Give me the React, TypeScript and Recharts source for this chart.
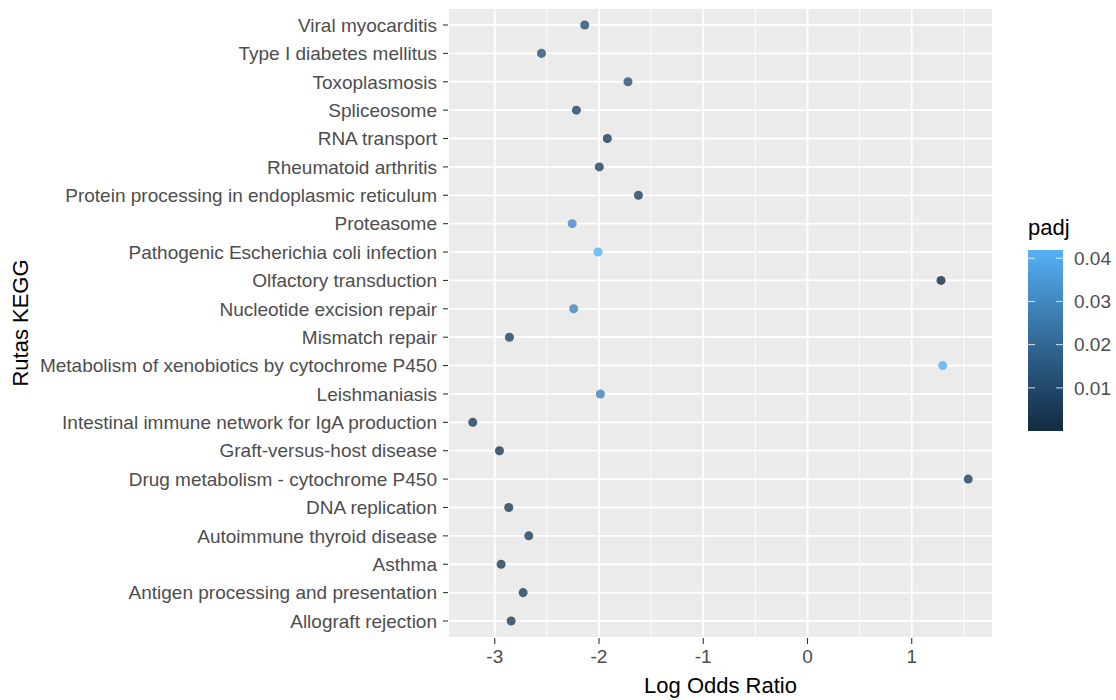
import React from 'react';
import { ScatterChart, Scatter, XAxis, YAxis, CartesianGrid, Cell } from 'recharts';

// ggplot factor order (first level drawn at the bottom)
const pathways = [
  'Allograft rejection',
  'Antigen processing and presentation',
  'Asthma',
  'Autoimmune thyroid disease',
  'DNA replication',
  'Drug metabolism - cytochrome P450',
  'Graft-versus-host disease',
  'Intestinal immune network for IgA production',
  'Leishmaniasis',
  'Metabolism of xenobiotics by cytochrome P450',
  'Mismatch repair',
  'Nucleotide excision repair',
  'Olfactory transduction',
  'Pathogenic Escherichia coli infection',
  'Proteasome',
  'Protein processing in endoplasmic reticulum',
  'Rheumatoid arthritis',
  'RNA transport',
  'Spliceosome',
  'Toxoplasmosis',
  'Type I diabetes mellitus',
  'Viral myocarditis',
];

const logOddsRatio = [
  -2.843, -2.728, -2.939, -2.674, -2.866, 1.542, -2.955, -3.211, -1.987, 1.297, -2.859,
  -2.243, 1.281, -2.009, -2.257, -1.622, -1.997, -1.92, -2.217, -1.722, -2.552, -2.137,
];

const padj = [
  0.006, 0.007, 0.006, 0.007, 0.006, 0.007, 0.005, 0.005, 0.028, 0.0415, 0.008,
  0.029, 0.00002, 0.0419, 0.031, 0.008, 0.007, 0.005, 0.008, 0.013, 0.013, 0.012,
];

const xTicks = [-3, -2, -1, 0, 1];
const xMinorTicks = [-2.5, -1.5, -0.5, 0.5, 1.5];
const legendTicks = [0.01, 0.02, 0.03, 0.04];
const legendTickLabels = ['0.01', '0.02', '0.03', '0.04'];

const LOW = '#132B43';
const HIGH = '#56B1F7';
const FONT = '"Liberation Sans", Arial, Helvetica, sans-serif';

// ---- Lab colour interpolation (as ggplot's seq_gradient_pal) ----
const hexToRgb = (h: string) => [1, 3, 5].map((i) => parseInt(h.slice(i, i + 2), 16));
const toLin = (c: number) => {
  const v = c / 255;
  return v <= 0.04045 ? v / 12.92 : Math.pow((v + 0.055) / 1.055, 2.4);
};
const fromLin = (v: number) => {
  const c = v <= 0.0031308 ? 12.92 * v : 1.055 * Math.pow(v, 1 / 2.4) - 0.055;
  return Math.round(Math.min(1, Math.max(0, c)) * 255);
};
const WX = 0.95047, WY = 1.0, WZ = 1.08883;
const EPS = 216 / 24389, KAP = 24389 / 27;
const fLab = (t: number) => (t > EPS ? Math.cbrt(t) : (KAP * t + 16) / 116);
const fInv = (t: number) => {
  const t3 = t * t * t;
  return t3 > EPS ? t3 : (116 * t - 16) / KAP;
};
function hexToLab(h: string) {
  const [r, g, b] = hexToRgb(h).map(toLin);
  const X = 0.4124564 * r + 0.3575761 * g + 0.1804375 * b;
  const Y = 0.2126729 * r + 0.7151522 * g + 0.072175 * b;
  const Z = 0.0193339 * r + 0.119192 * g + 0.9503041 * b;
  const fx = fLab(X / WX), fy = fLab(Y / WY), fz = fLab(Z / WZ);
  return [116 * fy - 16, 500 * (fx - fy), 200 * (fy - fz)];
}
function labToHex(lab: number[]) {
  const [L, a, b] = lab;
  const fy = (L + 16) / 116, fx = fy + a / 500, fz = fy - b / 200;
  const X = WX * fInv(fx), Y = WY * fInv(fy), Z = WZ * fInv(fz);
  const r = 3.2404542 * X - 1.5371385 * Y - 0.4985314 * Z;
  const g = -0.969266 * X + 1.8760108 * Y + 0.041556 * Z;
  const bl = 0.0556434 * X - 0.2040259 * Y + 1.0572252 * Z;
  return '#' + [r, g, bl].map(fromLin).map((v) => v.toString(16).padStart(2, '0')).join('');
}
const labLow = hexToLab(LOW);
const labHigh = hexToLab(HIGH);
const pMin = Math.min(...padj);
const pMax = Math.max(...padj);
const colorAt = (t: number) => labToHex(labLow.map((v, i) => v + (labHigh[i] - v) * t));
const colorFor = (p: number) => colorAt((p - pMin) / (pMax - pMin));

const data = pathways.map((name, i) => ({ name, lor: logOddsRatio[i], padj: padj[i] }));

// ggplot continuous expansion: 5% each side
const xLo = Math.min(...logOddsRatio);
const xHi = Math.max(...logOddsRatio);
const xPad = (xHi - xLo) * 0.05;
const xDomain: [number, number] = [xLo - xPad, xHi + xPad];

const gradStops = Array.from({ length: 21 }, (_, k) => k / 20);

// colour bar geometry
const BAR_X = 1028, BAR_Y = 250, BAR_W = 35, BAR_H = 181;
const barY = (v: number) => BAR_Y + BAR_H - ((v - pMin) / (pMax - pMin)) * BAR_H;

export default function App() {
  return (
    <div style={{ position: 'absolute', left: 0, top: 0, width: 1116, height: 700, background: '#fff', fontFamily: FONT }}>
      <ScatterChart width={1116} height={700} margin={{ top: 8, right: 123, bottom: 0, left: 0 }} style={{ fontFamily: FONT }}>
        <CartesianGrid xAxisId="minor" horizontal={false} stroke="#FFFFFF" strokeWidth={0.9} fill="#EBEBEB" fillOpacity={1} />
        <CartesianGrid stroke="#FFFFFF" strokeWidth={1.8} />
        <XAxis xAxisId="minor" type="number" dataKey="lor" domain={xDomain} ticks={xMinorTicks} allowDataOverflow hide />
        <XAxis
          type="number"
          dataKey="lor"
          domain={xDomain}
          ticks={xTicks}
          allowDataOverflow
          height={62}
          tickSize={6}
          tickMargin={6}
          axisLine={false}
          tickLine={{ stroke: '#333333', strokeWidth: 1.1 }}
          tick={{ fill: '#4D4D4D', fontSize: 19, fontFamily: FONT }}
          label={(props: any) => {
            const vb = props.viewBox || { x: 448, y: 638, width: 545 };
            return (
              <text x={vb.x + vb.width / 2} y={693} textAnchor="middle" fontSize={22} fill="#000000" fontFamily={FONT}>
                Log Odds Ratio
              </text>
            );
          }}
        />
        <YAxis
          type="category"
          dataKey="name"
          scale="point"
          allowDuplicatedCategory={false}
          width={448}
          padding={{ top: 17, bottom: 17 }}
          tickSize={5}
          tickMargin={6}
          axisLine={false}
          interval={0}
          tickLine={{ stroke: '#333333', strokeWidth: 1.1 }}
          tick={{ fill: '#4D4D4D', fontSize: 19, fontFamily: FONT }}
          label={(props: any) => {
            const vb = props.viewBox || { x: 0, y: 8, height: 630 };
            return (
              <text
                transform={`translate(28.3, ${vb.y + vb.height / 2}) rotate(-90)`}
                textAnchor="middle"
                fontSize={22}
                fill="#000000"
                fontFamily={FONT}
              >
                Rutas KEGG
              </text>
            );
          }}
        />
        <Scatter data={data} isAnimationActive={false}>
          {data.map((d, i) => (
            <Cell key={i} fill={colorFor(d.padj)} fillOpacity={0.8} />
          ))}
        </Scatter>
      </ScatterChart>
      <svg width={1116} height={700} style={{ position: 'absolute', left: 0, top: 0, pointerEvents: 'none' }}>
        <defs>
          <linearGradient id="padjGrad" x1="0" y1="0" x2="0" y2="1">
            {gradStops.map((o) => (
              <stop key={o} offset={o} stopColor={colorAt(1 - o)} />
            ))}
          </linearGradient>
        </defs>
        <text x={BAR_X} y={235} fontSize={22} fill="#000000" fontFamily={FONT}>padj</text>
        <rect x={BAR_X} y={BAR_Y} width={BAR_W} height={BAR_H} fill="url(#padjGrad)" />
        {legendTicks.map((v, i) => (
          <g key={v}>
            <line x1={BAR_X} x2={BAR_X + 7} y1={barY(v)} y2={barY(v)} stroke="#FFFFFF" strokeOpacity={0.8} strokeWidth={1} />
            <line x1={BAR_X + BAR_W - 7} x2={BAR_X + BAR_W} y1={barY(v)} y2={barY(v)} stroke="#FFFFFF" strokeOpacity={0.8} strokeWidth={1} />
            <text x={1074} y={barY(v)} dy="0.36em" fontSize={19} fill="#4D4D4D" fontFamily={FONT}>
              {legendTickLabels[i]}
            </text>
          </g>
        ))}
      </svg>
    </div>
  );
}
